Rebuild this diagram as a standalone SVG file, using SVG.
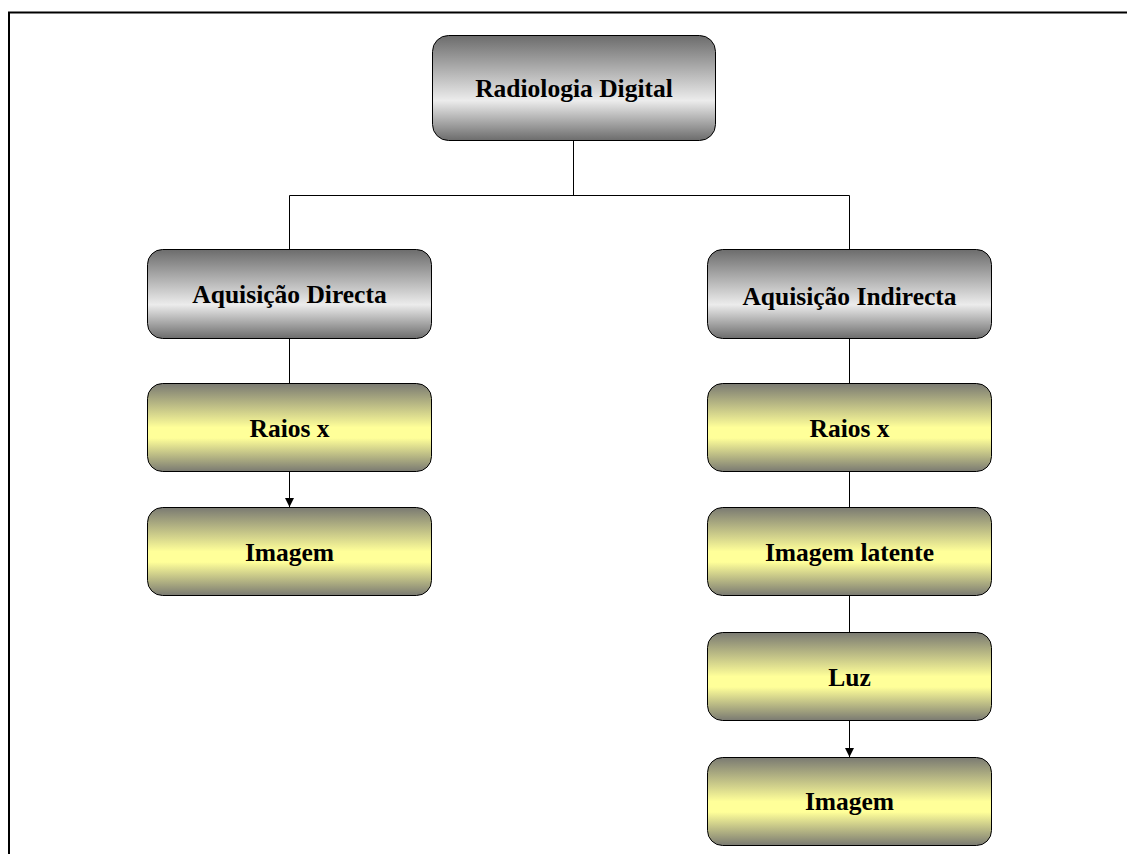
<svg xmlns="http://www.w3.org/2000/svg" width="1127" height="854" viewBox="0 0 1127 854">
<defs>
<linearGradient id="gGrey" x1="0" y1="0" x2="0" y2="1">
<stop offset="0" stop-color="#6c6c6c"/>
<stop offset="0.62" stop-color="#ececec"/>
<stop offset="1" stop-color="#6c6c6c"/>
</linearGradient>
<linearGradient id="gYel" x1="0" y1="0" x2="0" y2="1">
<stop offset="0" stop-color="#7a7a72"/>
<stop offset="0.5" stop-color="#ffff99"/>
<stop offset="0.62" stop-color="#ffff99"/>
<stop offset="1" stop-color="#7a7a72"/>
</linearGradient>
<marker id="arr" viewBox="0 0 10 10" refX="10" refY="5" markerWidth="9" markerHeight="9" markerUnits="userSpaceOnUse" orient="auto">
<path d="M0,0 L10,5 L0,10 Z" fill="#000"/>
</marker>
</defs>
<style>
.grey{fill:url(#gGrey);stroke:#000;stroke-width:1}
.yel{fill:url(#gYel);stroke:#000;stroke-width:1}
.lbl{font-family:"Liberation Serif","Times New Roman",serif;font-weight:bold;font-size:25.5px;fill:#000;text-anchor:middle}
.con{stroke:#000;stroke-width:1;fill:none}
</style>
<rect x="0" y="0" width="1127" height="854" fill="#fff"/>
<path d="M9,854 V12.5 H1127" fill="none" stroke="#000" stroke-width="2"/>
<g id="connectors">
<path class="con" d="M573.5,141 V195.5"/>
<path class="con" d="M289.5,249 V195.5 H849.5 V249"/>
<path class="con" d="M289.5,339 V383"/>
<path class="con" d="M289.5,472 V507" marker-end="url(#arr)"/>
<path class="con" d="M849.5,339 V383"/>
<path class="con" d="M849.5,472 V507"/>
<path class="con" d="M849.5,596 V632"/>
<path class="con" d="M849.5,721 V757" marker-end="url(#arr)"/>
</g>
<g id="n-radiologia">
<rect class="grey" x="432.5" y="35.5" width="283" height="105" rx="16"/>
<text class="lbl" x="574" y="97">Radiologia Digital</text>
</g>
<g id="n-directa">
<rect class="grey" x="147.5" y="249.5" width="284" height="89" rx="15"/>
<text class="lbl" x="289.5" y="303">Aquisição Directa</text>
</g>
<g id="n-indirecta">
<rect class="grey" x="707.5" y="249.5" width="284" height="89" rx="15"/>
<text class="lbl" x="849.5" y="305">Aquisição Indirecta</text>
</g>
<g id="n-raios-l">
<rect class="yel" x="147.5" y="383.5" width="284" height="88" rx="15"/>
<text class="lbl" x="289.5" y="437">Raios x</text>
</g>
<g id="n-imagem-l">
<rect class="yel" x="147.5" y="507.5" width="284" height="88" rx="15"/>
<text class="lbl" x="289.5" y="561">Imagem</text>
</g>
<g id="n-raios-r">
<rect class="yel" x="707.5" y="383.5" width="284" height="88" rx="15"/>
<text class="lbl" x="849.5" y="437">Raios x</text>
</g>
<g id="n-latente">
<rect class="yel" x="707.5" y="507.5" width="284" height="88" rx="15"/>
<text class="lbl" x="849.5" y="561">Imagem latente</text>
</g>
<g id="n-luz">
<rect class="yel" x="707.5" y="632.5" width="284" height="88" rx="15"/>
<text class="lbl" x="849.5" y="686">Luz</text>
</g>
<g id="n-imagem-r">
<rect class="yel" x="707.5" y="757.5" width="284" height="88" rx="15"/>
<text class="lbl" x="849.5" y="810">Imagem</text>
</g>
</svg>
